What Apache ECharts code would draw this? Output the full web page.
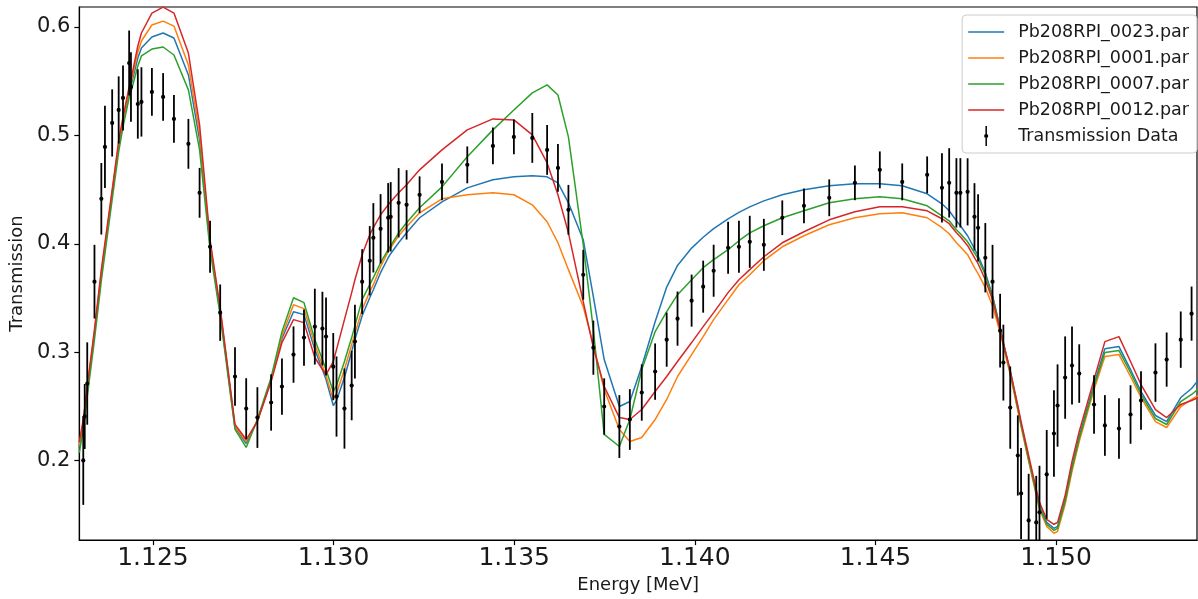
<!DOCTYPE html>
<html><head><meta charset="utf-8">
<script src="https://cdn.jsdelivr.net/npm/echarts@6/dist/echarts.min.js"></script>
<style>html,body{margin:0;padding:0;background:#fff}#c{width:1198px;height:599px}</style>
</head><body><div id="c"></div>
<script>
// Energy grid (MeV) shared by data and model curves
const energy = [
1.12296, 1.12307, 1.12311, 1.12318, 1.12338, 1.12357, 1.12367, 1.12387, 1.12405, 1.12417,
1.12434, 1.12439, 1.12458, 1.12468, 1.12497, 1.12528, 1.12558, 1.12598, 1.12629, 1.12658,
1.12686, 1.12727, 1.12758, 1.12789, 1.12827, 1.12857, 1.12889, 1.12918, 1.12948, 1.12969,
1.12979, 1.12999, 1.13008, 1.13030, 1.13050, 1.13059, 1.13079, 1.13100, 1.13110, 1.13130,
1.13151, 1.13158, 1.13180, 1.13202, 1.13238, 1.13300, 1.13370, 1.13441, 1.13499, 1.13550,
1.13591, 1.13621, 1.13650, 1.13691, 1.13719, 1.13749, 1.13791, 1.13820, 1.13853, 1.13890,
1.13922, 1.13952, 1.13991, 1.14023, 1.14052, 1.14092, 1.14122, 1.14152, 1.14191, 1.14242,
1.14302, 1.14372, 1.14443, 1.14512, 1.14574, 1.14643, 1.14684, 1.14704, 1.14724, 1.14735,
1.14755, 1.14774, 1.14784, 1.14804, 1.14824, 1.14845, 1.14854, 1.14873, 1.14894, 1.14903,
1.14924, 1.14945, 1.14954, 1.14974, 1.14994, 1.15004, 1.15025, 1.15044, 1.15064, 1.15105,
1.15135, 1.15174, 1.15206, 1.15235, 1.15275, 1.15306, 1.15345, 1.15375, 1.15412];

// Measured transmission and 1-sigma uncertainty (null = no measurement at that grid point)
const transmission = [
null, 0.2000, 0.2406, 0.2710, 0.3650, 0.4415, 0.4894, 0.5115, 0.5235, 0.5346,
0.5668, 0.5447, 0.5290, 0.5309, 0.5401, 0.5355, 0.5152, 0.4922, 0.4470, 0.3972,
0.3364, 0.2774, 0.2479, 0.2396, 0.2535, 0.2682, 0.2977, 0.3134, 0.3235, 0.3217,
0.3143, 0.2866, 0.2590, 0.2479, 0.2691, 0.3097, 0.3650, 0.3843, 0.4055, 0.4138,
0.4240, 0.4249, 0.4378, 0.4359, 0.4452, 0.4571, 0.4728, 0.4903, 0.4986, 0.4977,
0.4866, 0.4700, 0.4313, 0.3714, 0.3041, 0.2498, 0.2313, 0.2378, 0.2627, 0.2820,
0.3115, 0.3309, 0.3475, 0.3604, 0.3751, 0.3963, 0.3972, 0.4018, 0.3990, 0.4240,
0.4350, 0.4424, 0.4562, 0.4682, 0.4571, 0.4636, 0.4516, 0.4562, 0.4470, 0.4470,
0.4479, 0.4249, 0.4147, 0.3871, 0.3650, 0.3198, 0.2903, 0.2488, 0.2046, 0.1696,
0.1447, 0.1428, 0.1521, 0.1871, 0.2249, 0.2507, 0.2765, 0.2876, 0.2802, 0.2516,
0.2323, 0.2295, 0.2424, 0.2553, 0.2811, 0.2931, 0.3115, 0.3355, null];

const transErr = [
null, 0.041, 0.030, 0.038, 0.034, 0.033, 0.038, 0.031, 0.031, 0.030,
0.030, 0.032, 0.032, 0.032, 0.022, 0.022, 0.022, 0.023, 0.023, 0.024,
0.026, 0.027, 0.028, 0.028, 0.026, 0.026, 0.026, 0.026, 0.035, 0.034,
0.036, 0.031, 0.037, 0.037, 0.032, 0.034, 0.030, 0.032, 0.032, 0.032,
0.032, 0.032, 0.032, 0.032, 0.017, 0.017, 0.017, 0.017, 0.016, 0.023,
0.023, 0.022, 0.023, 0.023, 0.025, 0.026, 0.029, 0.028, 0.026, 0.026,
0.025, 0.025, 0.024, 0.024, 0.024, 0.024, 0.024, 0.024, 0.024, 0.016,
0.016, 0.017, 0.016, 0.017, 0.017, 0.017, 0.032, 0.032, 0.032, 0.032,
0.031, 0.031, 0.031, 0.032, 0.034, 0.034, 0.035, 0.038, 0.037, 0.042,
0.043, 0.043, 0.043, 0.041, 0.040, 0.038, 0.038, 0.036, 0.027, 0.027,
0.028, 0.028, 0.027, 0.027, 0.027, 0.025, 0.026, 0.025, null];

// Model curves
const par0023 = [
0.2120, 0.2341, 0.2452, 0.2646, 0.3171, 0.3714, 0.3963, 0.4461, 0.4903, 0.5124,
0.5392, 0.5456, 0.5714, 0.5806, 0.5908, 0.5945, 0.5899, 0.5558, 0.4959, 0.3982,
0.3373, 0.2304, 0.2157, 0.2369, 0.2738, 0.3125, 0.3373, 0.3346, 0.3023, 0.2839,
0.2747, 0.2507, 0.2553, 0.2766, 0.3005, 0.3115, 0.3336, 0.3502, 0.3576, 0.3733,
0.3871, 0.3908, 0.4009, 0.4101, 0.4240, 0.4387, 0.4516, 0.4590, 0.4618, 0.4627,
0.4618, 0.4562, 0.4378, 0.4037, 0.3512, 0.2931, 0.2498, 0.2544, 0.2867, 0.3280,
0.3600, 0.3800, 0.3960, 0.4060, 0.4140, 0.4230, 0.4290, 0.4340, 0.4396, 0.4452,
0.4498, 0.4535, 0.4553, 0.4553, 0.4535, 0.4461, 0.4369, 0.4304, 0.4212, 0.4166,
0.4074, 0.3954, 0.3890, 0.3733, 0.3521, 0.3226, 0.3088, 0.2821, 0.2488, 0.2341,
0.2018, 0.1705, 0.1586, 0.1429, 0.1374, 0.1392, 0.1641, 0.1945, 0.2221, 0.2701,
0.3032, 0.3051, 0.2839, 0.2636, 0.2415, 0.2359, 0.2581, 0.2664, 0.2821];

const par0001 = [
0.2140, 0.2359, 0.2470, 0.2664, 0.3189, 0.3733, 0.3982, 0.4479, 0.4922, 0.5143,
0.5420, 0.5484, 0.5770, 0.5871, 0.6019, 0.6055, 0.6009, 0.5650, 0.5023, 0.4009,
0.3392, 0.2313, 0.2175, 0.2369, 0.2747, 0.3152, 0.3438, 0.3401, 0.3069, 0.2876,
0.2784, 0.2563, 0.2618, 0.2839, 0.3069, 0.3171, 0.3392, 0.3558, 0.3622, 0.3788,
0.3926, 0.3963, 0.4074, 0.4157, 0.4286, 0.4415, 0.4452, 0.4470, 0.4452, 0.4359,
0.4203, 0.4009, 0.3761, 0.3419, 0.3069, 0.2655, 0.2286, 0.2175, 0.2212, 0.2378,
0.2563, 0.2775, 0.2977, 0.3143, 0.3300, 0.3484, 0.3622, 0.3714, 0.3844, 0.3972,
0.4074, 0.4175, 0.4240, 0.4276, 0.4286, 0.4240, 0.4148, 0.4092, 0.4009, 0.3972,
0.3899, 0.3779, 0.3724, 0.3595, 0.3428, 0.3180, 0.3051, 0.2793, 0.2461, 0.2313,
0.1991, 0.1678, 0.1549, 0.1392, 0.1328, 0.1346, 0.1595, 0.1899, 0.2175, 0.2655,
0.2959, 0.2977, 0.2775, 0.2581, 0.2359, 0.2304, 0.2498, 0.2563, 0.2636];

const par0007 = [
0.2070, 0.2286, 0.2396, 0.2590, 0.3115, 0.3659, 0.3908, 0.4406, 0.4848, 0.5078,
0.5346, 0.5401, 0.5641, 0.5733, 0.5797, 0.5816, 0.5742, 0.5420, 0.4866, 0.3945,
0.3336, 0.2286, 0.2120, 0.2378, 0.2766, 0.3189, 0.3502, 0.3456, 0.3115, 0.2931,
0.2839, 0.2636, 0.2692, 0.2913, 0.3134, 0.3244, 0.3484, 0.3622, 0.3687, 0.3825,
0.3945, 0.3982, 0.4101, 0.4194, 0.4332, 0.4525, 0.4802, 0.5051, 0.5235, 0.5392,
0.5466, 0.5373, 0.4986, 0.3991, 0.3208, 0.2240, 0.2129, 0.2378, 0.2839, 0.3189,
0.3373, 0.3530, 0.3668, 0.3779, 0.3853, 0.3945, 0.4028, 0.4101, 0.4166, 0.4240,
0.4304, 0.4378, 0.4415, 0.4433, 0.4415, 0.4350, 0.4258, 0.4212, 0.4129, 0.4092,
0.4018, 0.3917, 0.3862, 0.3714, 0.3512, 0.3217, 0.3079, 0.2812, 0.2479, 0.2332,
0.2009, 0.1696, 0.1567, 0.1411, 0.1355, 0.1374, 0.1622, 0.1927, 0.2203, 0.2683,
0.2996, 0.3014, 0.2812, 0.2609, 0.2387, 0.2332, 0.2544, 0.2609, 0.2710];

const par0012 = [
0.2170, 0.2378, 0.2489, 0.2683, 0.3208, 0.3761, 0.4009, 0.4498, 0.4949, 0.5170,
0.5447, 0.5512, 0.5825, 0.5945, 0.6129, 0.6184, 0.6129, 0.5760, 0.5097, 0.4037,
0.3410, 0.2332, 0.2193, 0.2359, 0.2729, 0.3088, 0.3300, 0.3272, 0.2950, 0.2839,
0.2793, 0.2913, 0.3023, 0.3300, 0.3549, 0.3668, 0.3899, 0.4083, 0.4148, 0.4267,
0.4359, 0.4387, 0.4470, 0.4544, 0.4682, 0.4866, 0.5051, 0.5152, 0.5143, 0.5005,
0.4746, 0.4452, 0.4101, 0.3465, 0.3042, 0.2683, 0.2396, 0.2378, 0.2470, 0.2636,
0.2775, 0.2913, 0.3088, 0.3235, 0.3364, 0.3549, 0.3668, 0.3761, 0.3880, 0.4009,
0.4111, 0.4221, 0.4295, 0.4341, 0.4341, 0.4304, 0.4231, 0.4185, 0.4101, 0.4065,
0.3982, 0.3871, 0.3816, 0.3668, 0.3484, 0.3208, 0.3079, 0.2830, 0.2507, 0.2359,
0.2046, 0.1733, 0.1613, 0.1457, 0.1411, 0.1429, 0.1678, 0.1991, 0.2267, 0.2747,
0.3097, 0.3143, 0.2913, 0.2701, 0.2470, 0.2396, 0.2516, 0.2553, 0.2609];

const modelNames = ['Pb208RPI_0023.par', 'Pb208RPI_0001.par', 'Pb208RPI_0007.par', 'Pb208RPI_0012.par'];
const dataName = 'Transmission Data';
const xTicks = [1.125, 1.130, 1.135, 1.140, 1.145, 1.150];
const yTicks = [0.2, 0.3, 0.4, 0.5, 0.6];

const FONT = 'DejaVu Sans';
const colors = ['#1f77b4', '#ff7f0e', '#2ca02c', '#d62728'];
const models = [par0023, par0001, par0007, par0012];

const chart = echarts.init(document.getElementById('c'), null, {renderer: 'canvas'});

const lineSeries = models.map((vals, k) => ({
  name: modelNames[k],
  type: 'line',
  symbol: 'none',
  showSymbol: false,
  clip: true,
  animation: false,
  data: energy.map((e, i) => [e, vals[i]]),
  lineStyle: {color: colors[k], width: 1.5},
  itemStyle: {color: colors[k], borderWidth: 0},
  z: 2 + k
}));

const dataSeries = {
  name: dataName,
  type: 'custom',
  clip: true,
  animation: false,
  z: 10,
  itemStyle: {color: '#000', borderWidth: 0},
  encode: {x: 0, y: 1},
  data: energy.map((e, i) => [e, transmission[i], transErr[i]]).filter(d => d[1] != null),
  renderItem: (params, api) => {
    const x = api.value(0), y = api.value(1), err = api.value(2);
    const p = api.coord([x, y]);
    const lo = api.coord([x, y - err]);
    const hi = api.coord([x, y + err]);
    return {
      type: 'group',
      children: [
        {type: 'line', shape: {x1: p[0], y1: hi[1], x2: p[0], y2: lo[1]},
         style: {stroke: '#000', lineWidth: 1.8}},
        {type: 'circle', shape: {cx: p[0], cy: p[1], r: 2.1}, style: {fill: '#000'}}
      ]
    };
  }
};

const lineIcon = 'path://M0,0 M36,20 M0,9.25 L36,9.25 L36,10.75 L0,10.75 Z';
const dataIcon = 'path://M0,0 M36,20 M17.25,0 L18.75,0 L18.75,20 L17.25,20 Z M15.9,10 A2.1,2.1 0 1 1 20.1,10 A2.1,2.1 0 1 1 15.9,10 Z';

chart.setOption({
  animation: false,
  backgroundColor: '#fff',
  grid: {left: 77, right: 1, top: 7, bottom: 58, show: true, borderColor: '#000', borderWidth: 1.2, backgroundColor: 'transparent'},
  legend: {
    orient: 'vertical', right: 1, top: 15,
    itemWidth: 36, itemHeight: 20, itemGap: 6,
    padding: [7, 8, 7, 6],
    backgroundColor: 'rgba(255,255,255,0.8)', borderColor: '#cccccc', borderWidth: 1, borderRadius: 4,
    itemStyle: {borderWidth: 0},
    textStyle: {fontFamily: FONT, fontSize: 17.5, color: '#1a1a1a', padding: [0, 0, 0, 9]},
    data: modelNames.map(n => ({name: n, icon: lineIcon})).concat([{name: dataName, icon: dataIcon}])
  },
  xAxis: {
    type: 'value', min: 1.12296, max: 1.1539,
    name: 'Energy [MeV]', nameLocation: 'middle', nameGap: 33,
    nameTextStyle: {fontFamily: FONT, fontSize: 18, color: '#1a1a1a'},
    axisLine: {show: true, onZero: false, lineStyle: {color: '#000', width: 1.2}},
    axisTick: {show: true, inside: false, length: 5, customValues: xTicks, lineStyle: {color: '#000', width: 1.2}},
    axisLabel: {customValues: xTicks, formatter: v => v.toFixed(3), fontFamily: FONT, fontSize: 25, color: '#1a1a1a', margin: 6},
    splitLine: {show: false}
  },
  yAxis: {
    type: 'value', min: 0.1265, max: 0.6185,
    name: 'Transmission', nameLocation: 'middle', nameGap: 42, nameRotate: 90,
    nameTextStyle: {fontFamily: FONT, fontSize: 18, color: '#1a1a1a'},
    axisLine: {show: true, onZero: false, lineStyle: {color: '#000', width: 1.2}},
    axisTick: {show: true, inside: false, length: 5, customValues: yTicks, lineStyle: {color: '#000', width: 1.2}},
    axisLabel: {customValues: yTicks, formatter: v => v.toFixed(1), fontFamily: FONT, fontSize: 21, color: '#1a1a1a', margin: 9},
    splitLine: {show: false}
  },
  series: lineSeries.concat([dataSeries])
});
</script>
</body></html>
